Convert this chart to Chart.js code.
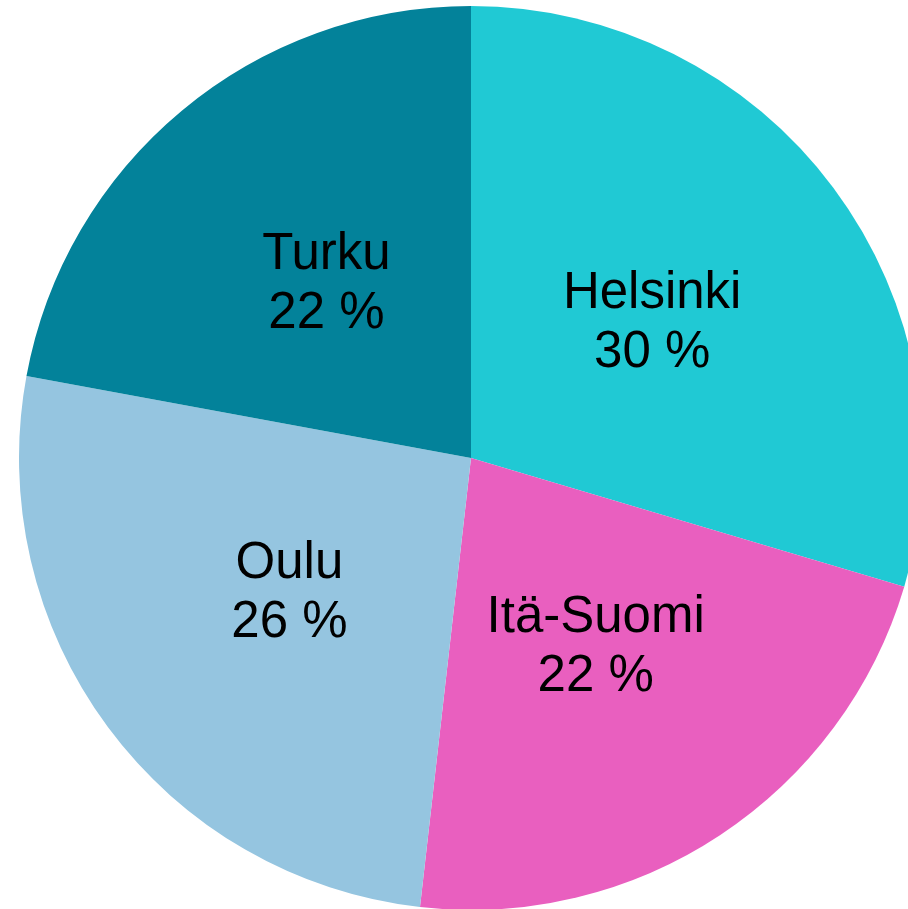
<!DOCTYPE html>
<html>
<head>
<meta charset="utf-8">
<script src="https://cdn.jsdelivr.net/npm/chart.js@4"></script>
<style>
html,body{margin:0;padding:0;width:908px;height:909px;overflow:hidden;background:#fff;}
#wrap{position:absolute;left:19px;top:6px;width:904px;height:904px;}
</style>
</head>
<body>
<div id="wrap"><canvas id="c" width="904" height="904"></canvas></div>
<script>
const categories = ["Helsinki", "Itä-Suomi", "Oulu", "Turku"];
const values = [29.6, 22.2, 26.1, 22.1];
const valueLabels = ["30 %", "22 %", "26 %", "22 %"];
const colors = ["#20C9D4", "#E95FBF", "#95C5E0", "#03829A"];

const labelPlugin = {
  id: 'sliceLabels',
  afterDatasetsDraw(chart) {
    const ctx = chart.ctx;
    const meta = chart.getDatasetMeta(0);
    ctx.save();
    ctx.fillStyle = '#000';
    ctx.font = '51px "Liberation Sans", Arial, sans-serif';
    ctx.textAlign = 'center';
    ctx.textBaseline = 'middle';
    meta.data.forEach((arc, i) => {
      const p = arc.tooltipPosition();
      ctx.fillText(categories[i], p.x, p.y - 29);
      ctx.fillText(valueLabels[i], p.x, p.y + 30);
    });
    ctx.restore();
  }
};

new Chart(document.getElementById('c'), {
  type: 'pie',
  data: {
    labels: categories,
    datasets: [{
      data: values,
      backgroundColor: colors,
      borderWidth: 0
    }]
  },
  options: {
    responsive: false,
    animation: false,
    layout: { padding: 0 },
    plugins: {
      legend: { display: false },
      tooltip: { enabled: false }
    }
  },
  plugins: [labelPlugin]
});
</script>
</body>
</html>
